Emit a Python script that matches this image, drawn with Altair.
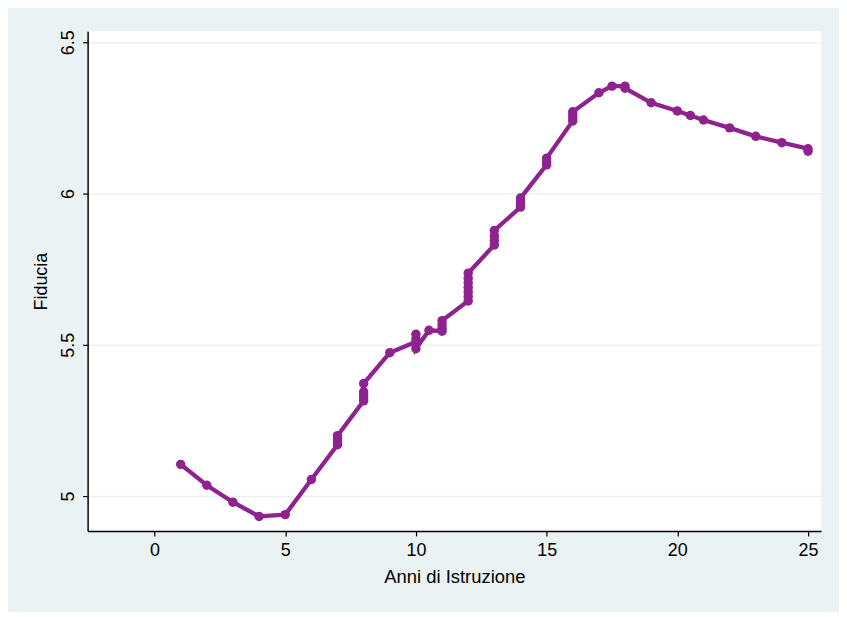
import altair as alt
import pandas as pd

# Anni di istruzione (x) and fiducia (y), in the order the line connects them
educ = [1, 2, 3, 4, 5, 6,
        7, 7, 7, 7,
        8, 8, 8, 8, 8,
        9,
        10, 10, 10, 10, 10,
        10.5,
        11, 11, 11, 11,
        12, 12, 12, 12, 12, 12, 12,
        13, 13, 13, 13,
        14, 14, 14, 14,
        15, 15, 15,
        16, 16, 16, 16,
        17, 17.5, 18, 18, 19, 20, 20.5, 21, 22, 23, 24, 25, 25]
fiducia = [5.105, 5.036, 4.980, 4.933, 4.939, 5.055,
           5.170, 5.180, 5.190, 5.200,
           5.315, 5.325, 5.335, 5.345, 5.372,
           5.474,
           5.510, 5.535, 5.520, 5.500, 5.487,
           5.548,
           5.545, 5.555, 5.567, 5.580,
           5.645, 5.660, 5.675, 5.690, 5.705, 5.720, 5.737,
           5.830, 5.845, 5.860, 5.878,
           5.955, 5.965, 5.975, 5.985,
           6.095, 6.105, 6.117,
           6.240, 6.250, 6.260, 6.270,
           6.333, 6.355, 6.355, 6.348, 6.300, 6.273, 6.258, 6.243, 6.217, 6.189, 6.168, 6.148, 6.140]
x_ticks = [0, 5, 10, 15, 20, 25]
y_ticks = [5, 5.5, 6, 6.5]

df = pd.DataFrame({"educ": educ, "fiducia": fiducia, "idx": list(range(len(educ)))})

PURPLE = "#8E2390"
FONT = "Liberation Sans"

x = alt.X("educ:Q",
          scale=alt.Scale(domain=[-2.56, 25.5], nice=False, zero=False),
          axis=alt.Axis(values=x_ticks, title="Anni di Istruzione", grid=False,
                        labelFontSize=18, titleFontSize=18.5, labelPadding=6,
                        titlePadding=8, tickSize=5, tickColor="black",
                        domainColor="black", domainWidth=1.5, tickWidth=1.2,
                        labelColor="black", titleColor="black",
                        labelFont=FONT, titleFont=FONT, titleFontWeight="normal"))
y = alt.Y("fiducia:Q",
          scale=alt.Scale(domain=[4.885, 6.536], nice=False, zero=False),
          axis=alt.Axis(values=y_ticks, title="Fiducia", grid=True,
                        gridColor="#EAF2F3", gridWidth=1.5, format="~g",
                        labelAngle=270, labelFontSize=18, titleFontSize=18,
                        labelPadding=5, titlePadding=9, tickSize=5,
                        tickColor="black", domainColor="black", domainWidth=1.5,
                        tickWidth=1.2, labelColor="black", titleColor="black",
                        labelFont=FONT, titleFont=FONT, titleFontWeight="normal"))

line = alt.Chart(df).mark_line(color=PURPLE, strokeWidth=4.3).encode(
    x=x, y=y, order=alt.Order("idx:Q"))
pts = alt.Chart(df).mark_circle(color=PURPLE, size=90, opacity=1).encode(x=x, y=y)

chart = alt.layer(line, pts).properties(
    width=737, height=502,
    autosize=alt.AutoSizeParams(type="none"),
    padding={"left": 80, "top": 22, "right": 18, "bottom": 80},
    background="#EAF2F3",
).configure_view(fill="white", stroke=None)

chart.save("out.html", embed_options={"renderer": "svg", "actions": False})
